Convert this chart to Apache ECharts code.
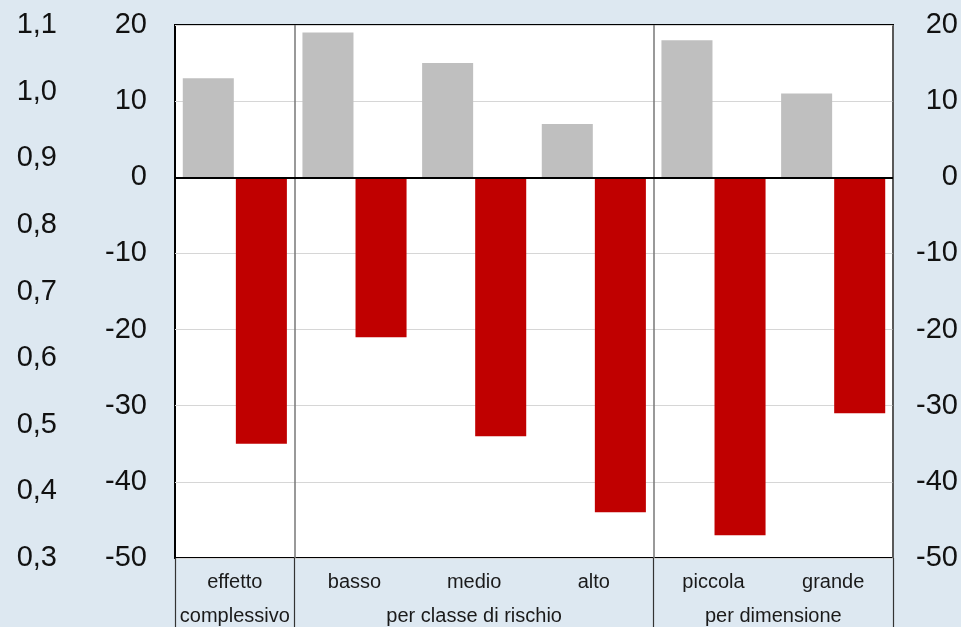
<!DOCTYPE html>
<html>
<head>
<meta charset="utf-8">
<script src="https://cdn.jsdelivr.net/npm/echarts@6/dist/echarts.min.js"></script>
<style>
html,body{margin:0;padding:0;background:#dde8f1;}
#chart{width:961px;height:627px;}
</style>
</head>
<body>
<div id="chart"></div>
<script>
// Data
var categories = ['effetto', 'basso', 'medio', 'alto', 'piccola', 'grande'];
var groupNames = ['complessivo', 'per classe di rischio', 'per dimensione'];
var groupSizes = [1, 3, 2];
var grayValues = [13, 19, 15, 7, 18, 11];
var redValues = [-35, -21, -34, -44, -47, -31];
var mainTicks = { min: -50, max: 20, interval: 10 };
var leftTicks = { min: 3, max: 11, interval: 1 }; // shown as 0,3 ... 1,1

// group boundaries and centers derived from group sizes
var boundaries = [0];
var centers = [];
(function () {
  var acc = 0;
  groupSizes.forEach(function (s) {
    centers.push(acc + s / 2);
    acc += s;
    boundaries.push(acc);
  });
})();

var FONT = 'Liberation Sans, Arial, sans-serif';
var chart = echarts.init(document.getElementById('chart'));
chart.setOption({
  backgroundColor: '#dde8f1',
  animation: false,
  grid: {
    left: 175, right: 68, top: 25, bottom: 69,
    show: true, backgroundColor: '#ffffff',
    borderColor: '#000', borderWidth: 2,
    containLabel: false
  },
  xAxis: [{
    type: 'category',
    data: categories,
    position: 'bottom',
    boundaryGap: true,
    axisLine: { show: false, onZero: false },
    axisTick: {
      show: true, inside: false, length: 69,
      interval: function (i) { return boundaries.indexOf(i) >= 0; },
      lineStyle: { color: '#333', width: 1.2 }
    },
    splitLine: {
      show: true,
      interval: function (i) { return boundaries.indexOf(i) > 0; },
      lineStyle: { color: '#777', width: 1.5 }
    },
    axisLabel: {
      interval: 0, margin: 14,
      color: '#1a1a1a', fontSize: 20, fontFamily: FONT
    }
  }, {
    type: 'value',
    min: 0, max: categories.length, interval: 0.5,
    position: 'bottom',
    offset: 35,
    axisLine: { show: false },
    axisTick: { show: false },
    splitLine: { show: false },
    axisLabel: {
      margin: 13,
      showMinLabel: true, showMaxLabel: true,
      color: '#1a1a1a', fontSize: 20, fontFamily: FONT,
      formatter: function (v) {
        for (var k = 0; k < centers.length; k++) {
          if (Math.abs(centers[k] - v) < 1e-6) return groupNames[k];
        }
        return '';
      }
    }
  }],
  yAxis: [{
    type: 'value',
    position: 'left',
    min: mainTicks.min, max: mainTicks.max, interval: mainTicks.interval,
    axisLine: { show: false },
    axisTick: { show: false },
    splitLine: { show: true, lineStyle: { color: '#d6d6d6', width: 1.2 } },
    axisLabel: { margin: 28, padding: [4, 0, 0, 0], color: '#111', fontSize: 29, fontFamily: FONT }
  }, {
    type: 'value',
    position: 'right',
    min: mainTicks.min, max: mainTicks.max, interval: mainTicks.interval,
    axisLine: { show: false },
    axisTick: { show: false },
    splitLine: { show: false },
    axisLabel: { margin: 65, align: 'right', padding: [4, 0, 0, 0], color: '#111', fontSize: 29, fontFamily: FONT }
  }, {
    type: 'value',
    position: 'left',
    min: leftTicks.min, max: leftTicks.max, interval: leftTicks.interval,
    axisLine: { show: false },
    axisTick: { show: false },
    splitLine: { show: false },
    axisLabel: {
      margin: 118, padding: [4, 0, 0, 0], color: '#111', fontSize: 29, fontFamily: FONT,
      formatter: function (v) { return (v / 10).toFixed(1).replace('.', ','); }
    }
  }],
  series: [{
    type: 'bar',
    data: grayValues,
    xAxisIndex: 0, yAxisIndex: 0,
    barGap: '4%', barCategoryGap: '13%',
    itemStyle: { color: '#bfbfbf' },
    silent: true
  }, {
    type: 'bar',
    data: redValues,
    xAxisIndex: 0, yAxisIndex: 0,
    barGap: '4%', barCategoryGap: '13%',
    itemStyle: { color: '#c00000' },
    silent: true,
    markLine: {
      silent: true,
      symbol: ['none', 'none'],
      label: { show: false },
      lineStyle: { color: '#000', width: 2, type: 'solid' },
      data: [{ yAxis: 0 }]
    }
  }]
});
</script>
</body>
</html>
